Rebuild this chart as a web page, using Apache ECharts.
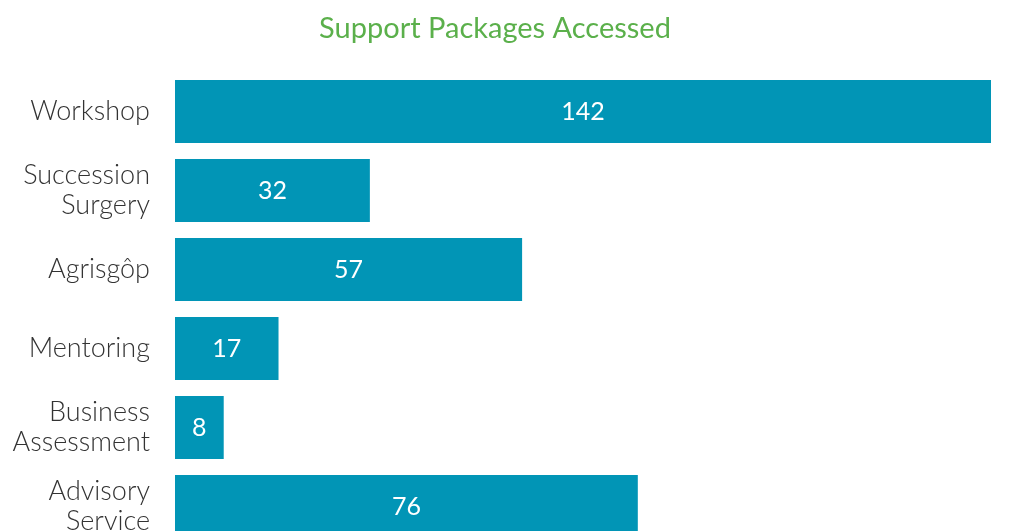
<!DOCTYPE html>
<html>
<head>
<meta charset="utf-8">
<script src="https://cdn.jsdelivr.net/npm/echarts@6/dist/echarts.min.js"></script>
<style>
  html, body { margin: 0; padding: 0; overflow: hidden; background: #fff; }
  #chart { width: 1014px; height: 560px; }
</style>
</head>
<body>
<div id="chart"></div>
<script>
const categories = [
  "Workshop",
  "Succession\nSurgery",
  "Agrisgôp",
  "Mentoring",
  "Business\nAssessment",
  "Advisory\nService"
];
const packages = [142, 32, 57, 17, 8, 76];

const myChart = echarts.init(document.getElementById("chart"));
const option = {
  animation: false,
  title: {
    text: "Support Packages Accessed",
    left: 490,
    textAlign: "center",
    top: 9,
    textStyle: {
      color: "#5bb04b",
      fontFamily: "Lato",
      fontWeight: "normal",
      fontSize: 29
    }
  },
  grid: {
    left: 175,
    right: 23,
    top: 72,
    height: 474
  },
  xAxis: {
    type: "value",
    min: 0,
    max: 134,
    show: false
  },
  yAxis: {
    type: "category",
    inverse: true,
    data: categories,
    axisLine: { show: false },
    axisTick: { show: false },
    axisLabel: {
      margin: 25,
      color: "#333",
      fontFamily: "Lato",
      fontWeight: 300,
      fontSize: 27,
      lineHeight: 30,
      align: "right"
    }
  },
  series: [
    {
      type: "bar",
      data: packages,
      barWidth: 63,
      clip: true,
      itemStyle: { color: "#0195b6" },
      label: {
        show: true,
        position: "inside",
        color: "#fff",
        fontFamily: "Lato",
        fontSize: 25
      }
    }
  ]
};
myChart.setOption(option);
</script>
</body>
</html>
